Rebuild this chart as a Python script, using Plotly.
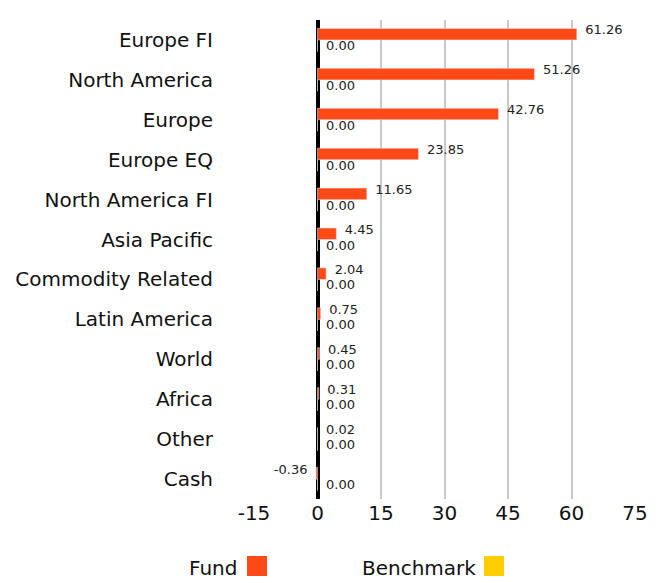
import plotly.graph_objects as go

categories = ["Europe FI", "North America", "Europe", "Europe EQ", "North America FI",
              "Asia Pacific", "Commodity Related", "Latin America", "World", "Africa",
              "Other", "Cash"]
fund = [61.26, 51.26, 42.76, 23.85, 11.65, 4.45, 2.04, 0.75, 0.45, 0.31, 0.02, -0.36]
benchmark = [0.00] * 12
tick_vals = [-15, 0, 15, 30, 45, 60, 75]
tick_text = ["-15", "0", "15", "30", "45", "60", "75"]

FUND_C = "#FF4A17"
BENCH_C = "#FFCE00"
FONT = "DejaVu Sans"

W, H = 667, 583
ML, MR, MT, MB = 254, 32, 20, 84

fig = go.Figure()
for name, vals, col in [("Fund", fund, FUND_C), ("Benchmark", benchmark, BENCH_C)]:
    fig.add_trace(go.Bar(
        y=categories, x=vals, orientation="h", name=name,
        marker_color=col, hoverinfo="skip",
    ))

# value labels on a hidden numeric overlay axis (category index), nudged above/below
idx = list(range(len(categories)))
for vals, dy in [(fund, -0.22), (benchmark, 0.17)]:
    fig.add_trace(go.Scatter(
        x=vals, y=[i + dy for i in idx], yaxis="y2", mode="markers+text",
        marker=dict(size=12, color="rgba(0,0,0,0)"),
        text=[f"{v:.2f}" for v in vals],
        textposition=["middle left" if v < 0 else "middle right" for v in vals],
        textfont=dict(size=13, color="#222", family=FONT),
        cliponaxis=False, hoverinfo="skip", showlegend=False,
    ))

fig.update_layout(
    width=W, height=H,
    margin=dict(l=ML, r=MR, t=MT, b=MB, autoexpand=False),
    barmode="group", bargap=0.42, bargroupgap=0,
    plot_bgcolor="white", paper_bgcolor="white",
    showlegend=False,
    font=dict(family=FONT, color="#111"),
    yaxis=dict(categoryorder="array", categoryarray=categories, autorange="reversed",
               tickfont=dict(size=20, family=FONT, color="#111"), ticks="",
               automargin=False, ticklabelstandoff=40),
    yaxis2=dict(overlaying="y", range=[len(categories) - 0.5, -0.5], visible=False,
                fixedrange=True),
)
fig.update_xaxes(
    range=[-15, 75], tickvals=tick_vals, ticktext=tick_text,
    showgrid=True, gridcolor="#c8c8c8", gridwidth=2,
    zeroline=True, zerolinecolor="black", zerolinewidth=4,
    tickfont=dict(size=20, family=FONT, color="#111"), ticks="", automargin=False,
)

px = lambda x: (x - ML) / (W - ML - MR)
py = lambda y: (H - MB - y) / (H - MT - MB)
legend_items = [("Fund", FUND_C, 239, 247), ("Benchmark", BENCH_C, 478, 484)]
for name, col, tx, sx in legend_items:
    fig.add_annotation(x=px(tx), y=py(568), xref="paper", yref="paper", text=name,
                       showarrow=False, xanchor="right", yanchor="middle",
                       font=dict(size=20, family=FONT, color="#111"))
    fig.add_shape(type="rect", xref="paper", yref="paper",
                  x0=px(sx), x1=px(sx + 20), y0=py(576), y1=py(556),
                  fillcolor=col, line_width=0)

fig.write_html("out.html", config={"displayModeBar": False, "staticPlot": True})

# remove default page margin so the figure sits at the window's top-left
with open("out.html", encoding="utf-8") as f:
    html = f.read()
html = html.replace("<head>", "<head><style>html,body{margin:0;padding:0;overflow:hidden}</style>", 1)
with open("out.html", "w", encoding="utf-8") as f:
    f.write(html)
